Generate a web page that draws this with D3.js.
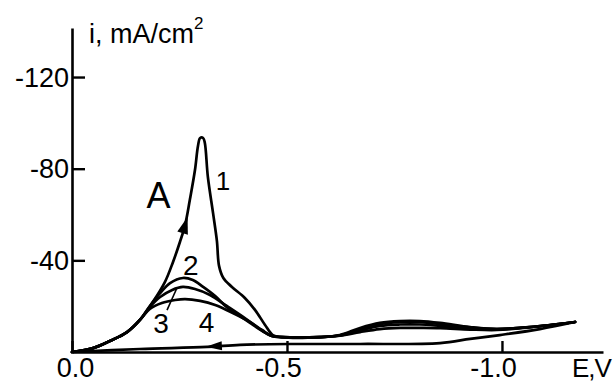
<!DOCTYPE html>
<html><head><meta charset="utf-8">
<script src="https://cdn.jsdelivr.net/npm/d3@7"></script>
<style>
html,body{margin:0;padding:0;background:#fff;}
svg{display:block;}
text{font-family:"Liberation Sans",Arial,sans-serif;fill:#000;}
</style></head>
<body>
<script>
// ---- data (E in V, i in mA/cm2) ----
const rise = [[0,0],[-0.049,-1.7],[-0.088,-4.8],[-0.128,-8.7],[-0.158,-14.0]];
const curve1 = [[-0.188,-21.8],[-0.216,-30.5],[-0.235,-39.3],[-0.251,-48.0],[-0.263,-55.4],[-0.274,-66.3],[-0.286,-79.4],[-0.293,-89.9],[-0.298,-93.4],[-0.305,-93.4],[-0.309,-91.2],[-0.316,-76.4],[-0.328,-60.7],[-0.337,-48.5],[-0.342,-37.6],[-0.352,-32.3],[-0.372,-28.4],[-0.402,-23.6],[-0.426,-18.3],[-0.449,-11.8],[-0.467,-7.4],[-0.488,-6.5],[-0.577,-6.5],[-0.623,-7.4],[-0.670,-10.5],[-0.716,-12.7],[-0.763,-13.5],[-0.809,-13.5],[-0.856,-12.7],[-0.926,-10.9],[-0.988,-10.0],[-1.065,-10.9],[-1.170,-13.1]];
const curve2 = [[-0.181,-20.1],[-0.205,-25.7],[-0.228,-30.1],[-0.258,-32.3],[-0.281,-31.4],[-0.305,-28.4],[-0.333,-24.4],[-0.360,-19.6],[-0.391,-15.7],[-0.414,-12.7],[-0.442,-9.2],[-0.465,-7.0],[-0.488,-6.5],[-0.577,-6.5],[-0.623,-7.3],[-0.670,-10.0],[-0.716,-12.2],[-0.763,-13.0],[-0.809,-13.0],[-0.856,-12.2],[-0.926,-10.6],[-0.988,-10.0],[-1.065,-10.9],[-1.170,-13.1]];
const curve3 = [[-0.181,-19.6],[-0.205,-24.0],[-0.233,-27.1],[-0.258,-28.4],[-0.286,-27.5],[-0.321,-24.9],[-0.360,-20.1],[-0.402,-14.8],[-0.437,-10.0],[-0.465,-7.0],[-0.488,-6.5],[-0.577,-6.5],[-0.623,-7.2],[-0.670,-9.4],[-0.716,-11.4],[-0.763,-12.0],[-0.809,-12.0],[-0.856,-11.4],[-0.926,-10.3],[-0.988,-10.0],[-1.065,-10.9],[-1.170,-13.1]];
const curve4 = [[-0.181,-18.8],[-0.209,-21.4],[-0.240,-22.7],[-0.263,-23.1],[-0.298,-22.3],[-0.333,-20.5],[-0.374,-17.0],[-0.414,-13.1],[-0.442,-9.6],[-0.465,-7.0],[-0.488,-6.5],[-0.577,-6.5],[-0.623,-7.1],[-0.670,-8.7],[-0.716,-10.0],[-0.763,-10.5],[-0.809,-10.5],[-0.856,-10.4],[-0.926,-9.8],[-0.988,-9.6],[-1.065,-10.7],[-1.170,-13.1]];
const reverse = [[-1.170,-13.1],[-1.088,-10.0],[-0.995,-7.4],[-0.926,-5.7],[-0.856,-3.9],[-0.670,-3.5],[-0.507,-3.5],[-0.391,-3.1],[-0.314,-2.2],[-0.158,-1.3],[0,0]];
const xTicks = [0,-0.5,-1.0];
const xTickLabels = ["0.0","-0.5","-1.0"];
const yTicks = [-120,-80,-40];
const yTickLabels = ["-120","-80","-40"];
const curveLabels = [
  {t:"1", E:-0.351, i:-70.5, size:26},
  {t:"2", E:-0.276, i:-33.6, size:28},
  {t:"3", E:-0.207, i:-8.3, size:28},
  {t:"4", E:-0.313, i:-8.7, size:28}
];

const W=616,H=383;
const svg=d3.select("body").append("svg").attr("width",W).attr("height",H);
const x=d3.scaleLinear().domain([0,-1.235]).range([72,603]);
const y=d3.scaleLinear().domain([0,-141.4]).range([352,28]);

// axes
const ya=d3.axisLeft(y).tickValues(yTicks).tickSize(-13).tickSizeOuter(0).tickPadding(3)
  .tickFormat((d,i)=>yTickLabels[i]);
const gy=svg.append("g").attr("transform",`translate(${x(0)},0)`).call(ya);
gy.select(".domain").attr("stroke","#000").attr("stroke-width",2.6);
gy.selectAll(".tick line").attr("stroke","#000").attr("stroke-width",2.4);
gy.selectAll(".tick text").attr("font-size",27).attr("dy","0.34em").attr("font-family","Liberation Sans, Arial, sans-serif");

const xa=d3.axisBottom(x).tickValues(xTicks).tickSize(-11).tickSizeOuter(0).tickPadding(6)
  .tickFormat((d,i)=>xTickLabels[i]);
const gx=svg.append("g").attr("transform",`translate(0,${y(0)})`).call(xa);
gx.select(".domain").attr("stroke","#000").attr("stroke-width",2.6);
gx.selectAll(".tick line").attr("stroke","#000").attr("stroke-width",2.4);
gx.selectAll(".tick text").attr("font-size",27).attr("dy","0.72em")
  .attr("dx",(d)=>d===0?3:-9).attr("font-family","Liberation Sans, Arial, sans-serif");

// axis titles
const t=svg.append("text").attr("x",89).attr("y",43).attr("font-size",27);
t.append("tspan").text("i, mA/cm");
t.append("tspan").text("2").attr("font-size",17).attr("dy",-14);
svg.append("text").attr("x",572).attr("y",377).attr("font-size",26).attr("letter-spacing",-1).text("E,V");

// curves
const line=d3.line().x(d=>x(d[0])).y(d=>y(d[1])).curve(d3.curveCatmullRom.alpha(0.5));
const series=[rise.concat(curve1),rise.concat(curve2),rise.concat(curve3),rise.concat(curve4),reverse];
svg.selectAll("path.cv").data(series).enter().append("path").attr("class","cv")
  .attr("d",line).attr("fill","none").attr("stroke","#000").attr("stroke-width",2.7)
  .attr("stroke-linejoin","round").attr("stroke-linecap","round");

// arrows
function arrow(p0,p1,len,half){
  const ax=x(p1[0]),ay=y(p1[1]),bx=x(p0[0]),by=y(p0[1]);
  const ang=Math.atan2(ay-by,ax-bx);
  svg.append("path").attr("d",`M${len},0 L0,${-half} L0,${half}Z`)
    .attr("transform",`translate(${ax - Math.cos(ang)*len*0.5},${ay - Math.sin(ang)*len*0.5}) rotate(${ang*180/Math.PI})`)
    .attr("fill","#000");
}
arrow(curve1[3],curve1[4],17,5.5);
arrow([-0.36,-2.8],[-0.33,-2.5],16,4.5);

// labels
svg.append("text").attr("x",x(-0.201)).attr("y",y(-62.8)).attr("font-size",36).attr("text-anchor","middle").text("A");
svg.selectAll("text.cl").data(curveLabels).enter().append("text").attr("class","cl")
  .attr("x",d=>x(d.E)).attr("y",d=>y(d.i)).attr("font-size",d=>d.size).attr("text-anchor","middle").text(d=>d.t);
// leader line for label 3
svg.append("line").attr("x1",x(-0.221)).attr("y1",y(-18.3)).attr("x2",x(-0.243)).attr("y2",y(-27.5))
  .attr("stroke","#000").attr("stroke-width",1.6);
</script>
</body></html>
